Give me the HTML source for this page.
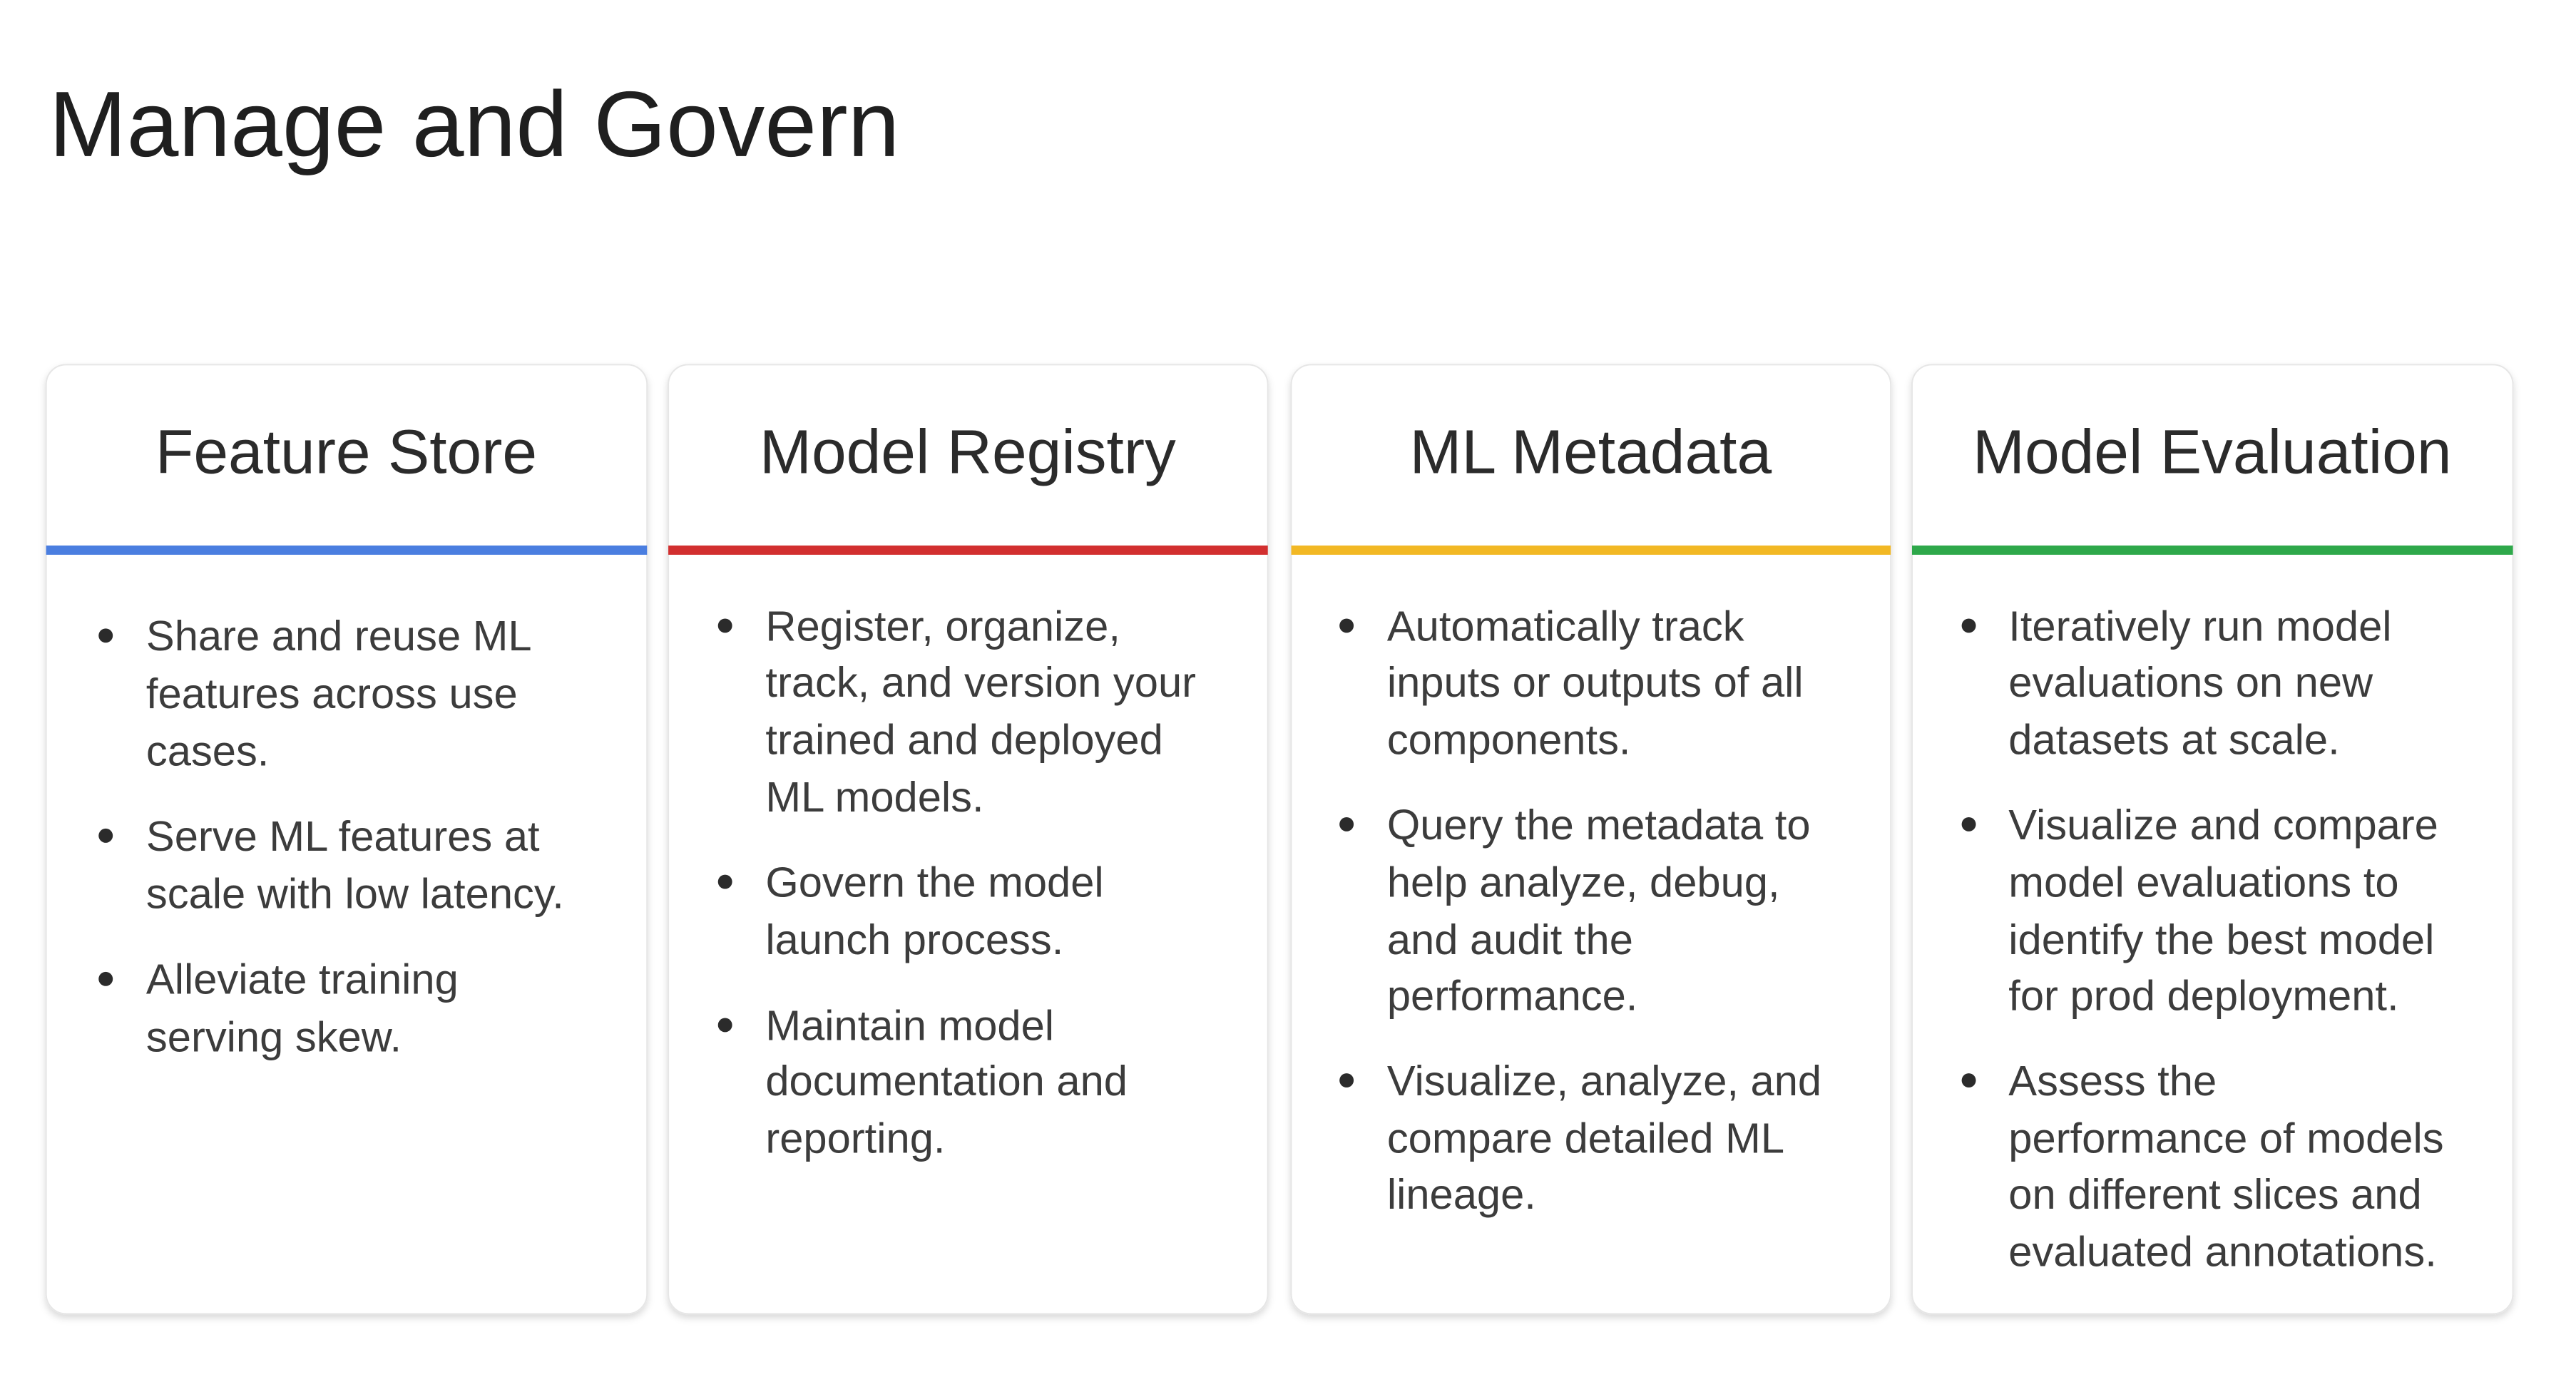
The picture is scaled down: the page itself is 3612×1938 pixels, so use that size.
<!DOCTYPE html>
<html><head><meta charset="utf-8"><style>
html,body{margin:0;padding:0;background:#fff;}
svg{display:block}
text{font-family:"Liberation Sans",sans-serif;}
.h{font-size:88px;fill:#2b2b2b;text-anchor:middle}
.b{font-size:60px;fill:#3c3c3c}
</style></head><body>
<svg width="3612" height="1938" viewBox="0 0 3612 1938" xmlns="http://www.w3.org/2000/svg">
<defs><filter id="s" x="-5%" y="-5%" width="110%" height="110%"><feDropShadow dx="0" dy="5" stdDeviation="5" flood-color="#000" flood-opacity="0.15"/></filter></defs>
<g transform="scale(0.9948)">
<text x="69" y="220" style="font-size:131px;fill:#1f1f1f" textLength="1199" lengthAdjust="spacingAndGlyphs">Manage and Govern</text>

<g filter="url(#s)">
<rect x="65" y="514" width="847" height="1338" rx="28" fill="#fff" stroke="#e6e6e6" stroke-width="2"/>
<rect x="942" y="514" width="845" height="1338" rx="28" fill="#fff" stroke="#e6e6e6" stroke-width="2"/>
<rect x="1820" y="514" width="845" height="1338" rx="28" fill="#fff" stroke="#e6e6e6" stroke-width="2"/>
<rect x="2695" y="514" width="847" height="1338" rx="28" fill="#fff" stroke="#e6e6e6" stroke-width="2"/>
</g>
<rect x="65" y="769" width="847" height="13" fill="#4a7ee0"/>
<rect x="942" y="769" width="845" height="13" fill="#d22f2f"/>
<rect x="1820" y="769" width="845" height="13" fill="#f2b824"/>
<rect x="2695" y="769" width="847" height="13" fill="#2ea84a"/>

<text class="h" x="488" y="667">Feature Store</text>
<text class="h" x="1364" y="667">Model Registry</text>
<text class="h" x="2242" y="667">ML Metadata</text>
<text class="h" x="3118" y="667">Model Evaluation</text>

<g fill="#2b2b2b">
<circle cx="149" cy="896" r="10"/><circle cx="149" cy="1178" r="10"/><circle cx="149" cy="1380" r="10"/>
<circle cx="1022" cy="882" r="10"/><circle cx="1022" cy="1243" r="10"/><circle cx="1022" cy="1445" r="10"/>
<circle cx="1898" cy="882" r="10"/><circle cx="1898" cy="1162" r="10"/><circle cx="1898" cy="1523" r="10"/>
<circle cx="2775" cy="882" r="10"/><circle cx="2775" cy="1162" r="10"/><circle cx="2775" cy="1523" r="10"/>
</g>

<g class="b">
<text class="b" x="206" y="917">Share and reuse ML</text>
<text class="b" x="206" y="998">features across use</text>
<text class="b" x="206" y="1079">cases.</text>
<text class="b" x="206" y="1199">Serve ML features at</text>
<text class="b" x="206" y="1280">scale with low latency.</text>
<text class="b" x="206" y="1401">Alleviate training</text>
<text class="b" x="206" y="1482">serving skew.</text>

<text class="b" x="1079" y="903">Register, organize,</text>
<text class="b" x="1079" y="982">track, and version your</text>
<text class="b" x="1079" y="1063">trained and deployed</text>
<text class="b" x="1079" y="1144">ML models.</text>
<text class="b" x="1079" y="1264">Govern the model</text>
<text class="b" x="1079" y="1345">launch process.</text>
<text class="b" x="1079" y="1466">Maintain model</text>
<text class="b" x="1079" y="1544">documentation and</text>
<text class="b" x="1079" y="1625">reporting.</text>

<text class="b" x="1955" y="903">Automatically track</text>
<text class="b" x="1955" y="982">inputs or outputs of  all</text>
<text class="b" x="1955" y="1063">components.</text>
<text class="b" x="1955" y="1183">Query the metadata to</text>
<text class="b" x="1955" y="1264">help analyze, debug,</text>
<text class="b" x="1955" y="1345">and audit the</text>
<text class="b" x="1955" y="1424">performance.</text>
<text class="b" x="1955" y="1544">Visualize, analyze, and</text>
<text class="b" x="1955" y="1625">compare detailed ML</text>
<text class="b" x="1955" y="1704">lineage.</text>

<text class="b" x="2831" y="903">Iteratively run model</text>
<text class="b" x="2831" y="982">evaluations on new</text>
<text class="b" x="2831" y="1063">datasets at scale.</text>
<text class="b" x="2831" y="1183">Visualize and compare</text>
<text class="b" x="2831" y="1264">model evaluations to</text>
<text class="b" x="2831" y="1345">identify the best model</text>
<text class="b" x="2831" y="1424">for prod deployment.</text>
<text class="b" x="2831" y="1544">Assess the</text>
<text class="b" x="2831" y="1625">performance of models</text>
<text class="b" x="2831" y="1704">on different slices and</text>
<text class="b" x="2831" y="1785">evaluated annotations.</text>
</g>
</g>
</svg>
</body></html>
